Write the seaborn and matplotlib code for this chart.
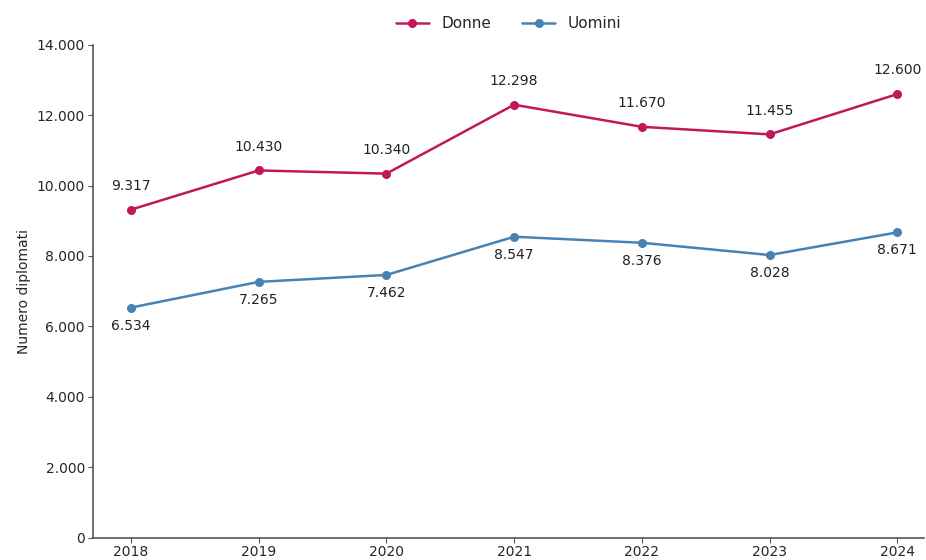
import matplotlib
matplotlib.use("Agg")
import matplotlib.pyplot as plt
import seaborn as sns
import pandas as pd
from matplotlib.ticker import FuncFormatter

anni = [2018, 2019, 2020, 2021, 2022, 2023, 2024]
donne = [9317, 10430, 10340, 12298, 11670, 11455, 12600]
uomini = [6534, 7265, 7462, 8547, 8376, 8028, 8671]

df = pd.DataFrame({"Anno": anni * 2,
                   "Diplomati": donne + uomini,
                   "Genere": ["Donne"] * len(anni) + ["Uomini"] * len(anni)})

sns.set_style("white")
plt.rcParams["font.family"] = ["DejaVu Sans"]

colori = {"Donne": "#C2185B", "Uomini": "#4682B4"}

fig = plt.figure(figsize=(9.26, 5.6), dpi=100)
ax = fig.add_axes([0.100, 0.040, 0.898, 0.880])

sns.lineplot(data=df, x="Anno", y="Diplomati", hue="Genere", palette=colori,
             marker="o", markersize=6.5, markeredgewidth=0, linewidth=1.8, ax=ax)

def it_fmt(v):
    return f"{int(round(v)):,}".replace(",", ".")

for x, y in zip(anni, donne):
    ax.annotate(it_fmt(y), (x, y), xytext=(0, 12), textcoords="offset points",
                ha="center", va="bottom", fontsize=10, color="#222222")
for x, y in zip(anni, uomini):
    ax.annotate(it_fmt(y), (x, y), xytext=(0, -8), textcoords="offset points",
                ha="center", va="top", fontsize=10, color="#222222")

ax.set_ylim(0, 14000)
ax.set_xlim(2017.7, 2024.21)
ax.set_xticks(anni)
ax.yaxis.set_major_formatter(FuncFormatter(lambda v, p: it_fmt(v)))
ax.set_xlabel("")
ax.set_ylabel("Numero diplomati", fontsize=10)
ax.tick_params(axis="both", labelsize=10, length=3.5, pad=2, left=True, bottom=True, color="#555555")
for s in ["top", "right"]:
    ax.spines[s].set_visible(False)
for s in ["left", "bottom"]:
    ax.spines[s].set_color("#555555")
    ax.spines[s].set_linewidth(1.2)

ax.legend(title=None, loc="lower center", bbox_to_anchor=(0.5, 1.0), ncol=2,
          frameon=False, fontsize=11, handlelength=2.2, columnspacing=2.0)

fig.savefig("out.png", dpi=100)
